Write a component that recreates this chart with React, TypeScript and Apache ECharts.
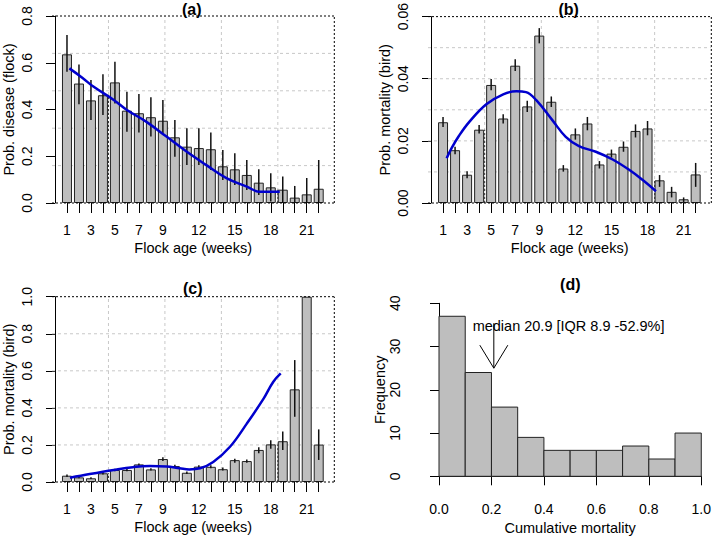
import React, { useEffect, useRef } from "react";
import * as echarts from "echarts";

// ---------------- data ----------------
const weeks = [1, 2, 3, 4, 5, 6, 7, 8, 9, 10, 11, 12, 13, 14, 15, 16, 17, 18, 19, 20, 21, 22];
const labelWeeks = [1, 3, 5, 7, 9, 12, 15, 18, 21];

// (a) probability of disease per flock
const diseaseProb = [0.636, 0.511, 0.439, 0.461, 0.516, 0.395, 0.384, 0.367, 0.352, 0.281, 0.241, 0.235, 0.23, 0.157, 0.144, 0.12, 0.087, 0.067, 0.057, 0.023, 0.037, 0.061];
const diseaseLow = [0.562, 0.422, 0.355, 0.376, 0.426, 0.305, 0.302, 0.284, 0.295, 0.198, 0.163, 0.163, 0.141, 0.098, 0.077, 0.056, 0.034, 0.006, 0, 0, 0, 0];
const diseaseHigh = [0.719, 0.593, 0.526, 0.551, 0.604, 0.476, 0.466, 0.452, 0.441, 0.355, 0.32, 0.32, 0.302, 0.227, 0.213, 0.184, 0.144, 0.127, 0.113, 0.073, 0.107, 0.184];
const diseaseSmooth = [
  [1.2, 0.576], [2.3, 0.535], [3.2, 0.498], [4.9, 0.441], [6.0, 0.398], [7.6, 0.348], [9.3, 0.284],
  [11.0, 0.219], [12.6, 0.163], [14.3, 0.106], [16.0, 0.07], [17.1, 0.048], [18.75, 0.048],
];

// (b) probability of mortality per bird
const mortProb = [0.026, 0.017, 0.0091, 0.0236, 0.038, 0.0272, 0.0442, 0.0311, 0.0539, 0.0326, 0.0111, 0.0221, 0.0256, 0.0124, 0.0159, 0.0181, 0.0232, 0.024, 0.0073, 0.0036, 0.0012, 0.0092];
const mortLow = [0.0245, 0.0157, 0.008, 0.0224, 0.0363, 0.0256, 0.0425, 0.0293, 0.0514, 0.0309, 0.0101, 0.0204, 0.0234, 0.0111, 0.0146, 0.0165, 0.0211, 0.0218, 0.0052, 0.0018, 0.0003, 0.0052];
const mortHigh = [0.0277, 0.0181, 0.0102, 0.0251, 0.0399, 0.0286, 0.0463, 0.0329, 0.0563, 0.0343, 0.0122, 0.024, 0.0277, 0.0135, 0.0172, 0.0198, 0.0253, 0.0264, 0.009, 0.0052, 0.0018, 0.0129];
const mortSmooth = [
  [1.3, 0.0144], [1.7, 0.0176], [2.3, 0.0215], [3.2, 0.0262], [4.6, 0.0318], [6.0, 0.035], [7.1, 0.036],
  [7.9, 0.0357], [8.75, 0.0331], [10.1, 0.0266], [11.2, 0.0213], [12.3, 0.0183], [13.7, 0.0165],
  [15.1, 0.014], [16.5, 0.0106], [17.6, 0.0074], [18.7, 0.0038],
];

// (c) probability of mortality per bird (second set)
const mort2Prob = [0.034, 0.025, 0.02, 0.047, 0.065, 0.065, 0.095, 0.068, 0.124, 0.086, 0.05, 0.083, 0.082, 0.069, 0.118, 0.113, 0.173, 0.203, 0.22, 0.5, 1.0, 0.202];
const mort2Low = [0.027, 0.02, 0.016, 0.04, 0.058, 0.058, 0.088, 0.062, 0.113, 0.078, 0.043, 0.075, 0.074, 0.062, 0.104, 0.104, 0.155, 0.18, 0.173, 0.352, 1.0, 0.119];
const mort2High = [0.041, 0.03, 0.025, 0.055, 0.072, 0.073, 0.1, 0.074, 0.133, 0.093, 0.057, 0.091, 0.09, 0.078, 0.126, 0.122, 0.187, 0.225, 0.272, 0.658, 1.0, 0.284];
const mort2Smooth = [
  [1.25, 0.023], [2.9, 0.043], [4.9, 0.065], [6.5, 0.08], [7.9, 0.086], [9.3, 0.083], [10.4, 0.074],
  [11.2, 0.068], [12.1, 0.074], [13.2, 0.108], [14.6, 0.19], [16.0, 0.315], [17.4, 0.45], [18.2, 0.54], [18.83, 0.586],
];

// (d) histogram of cumulative mortality
const histBreaks = [0, 0.1, 0.2, 0.3, 0.4, 0.5, 0.6, 0.7, 0.8, 0.9, 1.0];
const histCounts = [37, 24, 16, 9, 6, 6, 6, 7, 4, 10];
const medianMortality = 0.209;
const medianText = "median 20.9 [IQR 8.9 -52.9%]";

// ---------------- layout / style ----------------
const FONT = '"Liberation Sans", Arial, Helvetica, sans-serif';
const X_MIN = -0.25;
const X_MAX = 23.3;
const BAR_FILL = "#BEBEBE";
const BAR_EDGE = "#222";
const BLUE = "#0000CD";

const panels = [
  { title: "(a)", tx: 191.7, ty: 9.5, rect: { left: 52, top: 16, width: 282.3, height: 187 }, yMax: 0.8, yStep: 0.2, dec: 1, hDiv: 5, yName: "Prob. disease (flock)", vals: diseaseProb, low: diseaseLow, high: diseaseHigh, smooth: diseaseSmooth },
  { title: "(b)", tx: 568.7, ty: 9.5, rect: { left: 428, top: 16, width: 283.3, height: 187 }, yMax: 0.06, yStep: 0.02, dec: 2, hDiv: 6, yName: "Prob. mortality (bird)", vals: mortProb, low: mortLow, high: mortHigh, smooth: mortSmooth },
  { title: "(c)", tx: 192.7, ty: 288.8, rect: { left: 52, top: 296.7, width: 282.3, height: 185.3 }, yMax: 1.0, yStep: 0.2, dec: 1, hDiv: 5, yName: "Prob. mortality (bird)", vals: mort2Prob, low: mort2Low, high: mort2High, smooth: mort2Smooth },
];

const labelStyle = { color: "#000", fontSize: 14, fontFamily: FONT };
const nameStyle = { color: "#000", fontSize: 14.5, fontFamily: FONT };

function segSeries(k: number, segs: number[][], style: any, z: number) {
  return {
    type: "custom",
    xAxisIndex: k,
    yAxisIndex: k,
    z,
    silent: true,
    clip: false,
    data: segs,
    encode: { x: [0, 2], y: [1, 3] },
    renderItem: (_p: any, api: any) => {
      const a = api.coord([api.value(0), api.value(1)]);
      const b = api.coord([api.value(2), api.value(3)]);
      return { type: "line", shape: { x1: a[0], y1: a[1], x2: b[0], y2: b[1] }, style };
    },
  };
}

function buildOption() {
  const grid: any[] = [];
  const xAxis: any[] = [];
  const yAxis: any[] = [];
  const series: any[] = [];
  const graphic: any[] = [];

  panels.forEach((p, k) => {
    grid.push({ ...p.rect });
    xAxis.push({
      gridIndex: k,
      type: "value",
      min: X_MIN,
      max: X_MAX,
      axisLine: { show: false },
      axisTick: { show: true, customValues: weeks, length: 10, lineStyle: { color: "#000", width: 1 } },
      axisLabel: { show: true, customValues: labelWeeks, margin: 20, ...labelStyle },
      splitLine: { show: false },
      name: "Flock age (weeks)",
      nameLocation: "middle",
      nameGap: 37.5,
      nameTextStyle: nameStyle,
    });
    yAxis.push({
      gridIndex: k,
      type: "value",
      min: 0,
      max: p.yMax,
      interval: p.yStep,
      axisLine: { show: true, lineStyle: { color: "#000", width: 1 } },
      axisTick: { show: true, length: 9, lineStyle: { color: "#000", width: 1 } },
      axisLabel: { rotate: 90, margin: 18, formatter: (v: number) => v.toFixed(p.dec), ...labelStyle },
      splitLine: { show: false },
      name: p.yName,
      nameLocation: "middle",
      nameGap: 36,
      nameTextStyle: nameStyle,
    });

    // light dotted grid (5 vertical divisions, hDiv horizontal divisions)
    const vLines: number[] = [];
    for (let j = 1; j < 5; j++) vLines.push(X_MIN + (j * (X_MAX - X_MIN)) / 5);
    const gridSegs: number[][] = [];
    vLines.forEach((xv) => gridSegs.push([xv, 0, xv, p.yMax]));
    for (let j = 1; j < p.hDiv; j++) {
      const yv = (j * p.yMax) / p.hDiv;
      gridSegs.push([X_MIN, yv, X_MAX, yv]);
    }
    series.push(segSeries(k, gridSegs, { stroke: "#C8C8C8", lineWidth: 1, lineDash: [3, 3] }, 1));

    // bars
    series.push({
      type: "bar",
      xAxisIndex: k,
      yAxisIndex: k,
      z: 2,
      barWidth: 10,
      silent: true,
      data: weeks.map((w, i) => [w, p.vals[i]]),
      itemStyle: { color: BAR_FILL, borderColor: BAR_EDGE, borderWidth: 1 },
    });

    // dark dotted gridline parts where the grid passes through the gap between bars
    const gapSegs: number[][] = [];
    vLines.forEach((xv) => {
      const lo = Math.floor(xv);
      const hi = lo + 1;
      if (Math.min(xv - lo, hi - xv) > 0.35 && lo >= 1 && hi <= weeks.length) {
        gapSegs.push([xv, 0, xv, Math.min(p.vals[lo - 1], p.vals[hi - 1])]);
      }
    });
    series.push(segSeries(k, gapSegs, { stroke: "#333", lineWidth: 1, lineDash: [2, 2] }, 3));

    // error bars
    series.push(segSeries(k, weeks.map((w, i) => [w, p.low[i], w, p.high[i]]), { stroke: "#111", lineWidth: 1.5 }, 4));

    // smooth fit
    series.push({
      type: "line",
      xAxisIndex: k,
      yAxisIndex: k,
      z: 5,
      silent: true,
      smooth: 0.4,
      showSymbol: false,
      data: p.smooth,
      lineStyle: { color: BLUE, width: 2.5 },
    });

    // dotted box (top, right, bottom)
    series.push(
      segSeries(
        k,
        [
          [X_MIN, p.yMax, X_MAX, p.yMax],
          [X_MAX, 0, X_MAX, p.yMax],
          [X_MIN, 0, X_MAX, 0],
        ],
        { stroke: "#000", lineWidth: 1, lineDash: [2, 2] },
        6
      )
    );

    graphic.push({
      type: "text",
      x: p.tx,
      y: p.ty,
      z: 100,
      style: {
        text: p.title,
        fill: "#000",
        font: `bold 16px ${FONT}`,
        align: "center",
        verticalAlign: "middle",
        textAlign: "center",
        textVerticalAlign: "middle",
      },
    });
  });

  // ---------- panel (d) ----------
  const kd = 3;
  grid.push({ left: 439, top: 303.3, width: 262.3, height: 173 });
  xAxis.push({
    gridIndex: kd,
    type: "value",
    min: 0,
    max: 1,
    interval: 0.2,
    offset: 6,
    axisLine: { show: true, lineStyle: { color: "#000", width: 1 } },
    axisTick: { show: true, length: 9, lineStyle: { color: "#000", width: 1 } },
    axisLabel: { margin: 20, formatter: (v: number) => v.toFixed(1), ...labelStyle },
    splitLine: { show: false },
    name: "Cumulative mortality",
    nameLocation: "middle",
    nameGap: 38.5,
    nameTextStyle: nameStyle,
  });
  yAxis.push({
    gridIndex: kd,
    type: "value",
    min: 0,
    max: 40,
    interval: 10,
    offset: 20.3,
    axisLine: { show: true, lineStyle: { color: "#000", width: 1 } },
    axisTick: { show: true, length: 9, lineStyle: { color: "#000", width: 1 } },
    axisLabel: { rotate: 90, margin: 16.5, ...labelStyle },
    splitLine: { show: false },
    name: "Frequency",
    nameLocation: "middle",
    nameGap: 26,
    nameTextStyle: nameStyle,
  });
  series.push({
    type: "custom",
    xAxisIndex: kd,
    yAxisIndex: kd,
    z: 2,
    silent: true,
    data: histCounts.map((c, i) => [histBreaks[i], histBreaks[i + 1], c]),
    encode: { x: [0, 1], y: 2 },
    renderItem: (_p: any, api: any) => {
      const a = api.coord([api.value(0), 0]);
      const b = api.coord([api.value(1), api.value(2)]);
      return {
        type: "rect",
        shape: { x: a[0], y: b[1], width: b[0] - a[0], height: a[1] - b[1] },
        style: { fill: BAR_FILL, stroke: BAR_EDGE, lineWidth: 1 },
      };
    },
  });
  // annotation: text and arrow pointing at the median
  const arrowTop = 35.4;
  const arrowTip = 25;
  const textX = 0.494;
  const textY = 34.7;
  series.push({
    type: "custom",
    xAxisIndex: kd,
    yAxisIndex: kd,
    z: 5,
    silent: true,
    data: [[medianMortality, arrowTop, arrowTip, textX, textY]],
    renderItem: (_p: any, api: any) => {
      const top = api.coord([api.value(0), api.value(1)]);
      const tip = api.coord([api.value(0), api.value(2)]);
      const t = api.coord([api.value(3), api.value(4)]);
      return {
        type: "group",
        children: [
          {
            type: "text",
            x: t[0],
            y: t[1],
            style: {
              text: medianText,
              fill: "#000",
              font: `14.5px ${FONT}`,
              align: "center",
              verticalAlign: "middle",
              textAlign: "center",
              textVerticalAlign: "middle",
            },
          },
          { type: "line", shape: { x1: top[0], y1: top[1], x2: tip[0], y2: tip[1] }, style: { stroke: "#000", lineWidth: 1 } },
          {
            type: "polyline",
            shape: { points: [[tip[0] - 14, tip[1] - 23], [tip[0], tip[1]], [tip[0] + 14, tip[1] - 23]] },
            style: { stroke: "#000", lineWidth: 1, fill: null },
          },
        ],
      };
    },
  });
  graphic.push({
    type: "text",
    x: 570.3,
    y: 284.8,
    z: 100,
    style: {
      text: "(d)",
      fill: "#000",
      font: `bold 16px ${FONT}`,
      align: "center",
      verticalAlign: "middle",
      textAlign: "center",
      textVerticalAlign: "middle",
    },
  });

  return {
    animation: false,
    backgroundColor: "#fff",
    textStyle: { fontFamily: FONT },
    grid,
    xAxis,
    yAxis,
    series,
    graphic,
  };
}

export default function App() {
  const ref = useRef<HTMLDivElement>(null);
  useEffect(() => {
    if (!ref.current) return;
    const chart = echarts.init(ref.current, null, { renderer: "svg" });
    chart.setOption(buildOption() as any);
    return () => chart.dispose();
  }, []);
  return (
    <div
      ref={ref}
      style={{ position: "absolute", left: 0, top: 0, width: 714, height: 539, background: "#fff" }}
    />
  );
}
